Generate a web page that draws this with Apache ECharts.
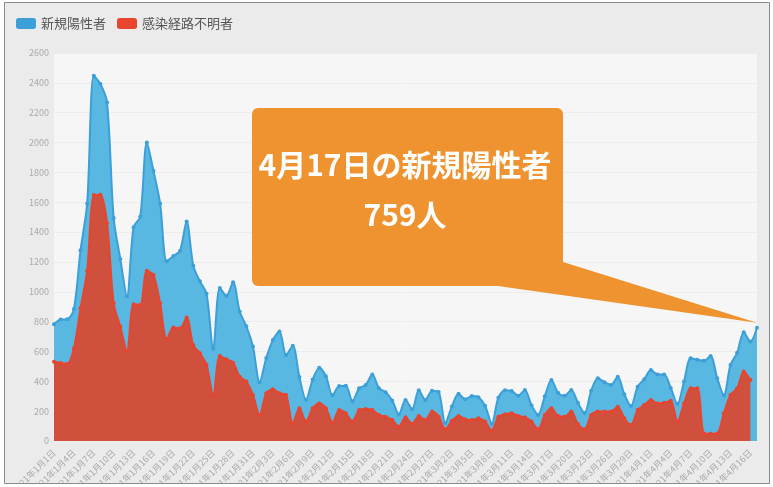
<!DOCTYPE html>
<html><head><meta charset="utf-8">
<script src="https://cdn.jsdelivr.net/npm/echarts@6/dist/echarts.min.js"></script>
<style>html,body{margin:0;padding:0;background:#fff;}#c{width:773px;height:487px;}</style>
</head><body><div id="c"></div>
<script>
const year = 2021;
const months = [1, 2, 3, 4];
const daysInMonth = [31, 28, 31, 17];
const seriesNames = ['新規陽性者', '感染経路不明者'];
const newCases = [
  783, 814, 816, 884, 1278, 1591, 2447, 2392, 2268, 1494, 1219, 970, 1433, 1502, 2001, 1809, 1592, 1204, 1240, 1274, 1471, 1175, 1070, 986, 618, 1026, 973, 1064, 868, 769, 633,
  393, 556, 676, 734, 577, 639, 429, 276, 412, 491, 434, 307, 369, 371, 266, 353, 375, 445, 353, 327, 272, 178, 275, 213, 340, 275, 337, 329,
  121, 232, 316, 279, 301, 293, 237, 116, 290, 340, 335, 304, 342, 239, 175, 300, 409, 323, 303, 342, 256, 187, 337, 420, 394, 376, 430, 313, 234, 364, 414,
  475, 446, 446, 355, 249, 399, 555, 545, 537, 570, 421, 306, 510, 591, 729, 667, 759
];
const unknownRoute = [
  531, 523, 516, 621, 889, 1141, 1648, 1650, 1459, 923, 766, 603, 916, 912, 1141, 1112, 923, 681, 760, 755, 827, 643, 588, 509, 308, 570, 547, 525, 431, 398, 308,
  174, 320, 346, 320, 308, 118, 219, 130, 219, 252, 219, 123, 208, 186, 130, 208, 215, 208, 174, 163, 141, 96, 159, 114, 168, 141, 197, 163,
  78, 136, 168, 145, 141, 152, 130, 69, 163, 179, 186, 168, 159, 130, 78, 174, 219, 168, 163, 197, 114, 78, 174, 197, 197, 197, 230, 152, 107, 208, 241,
  275, 252, 257, 270, 130, 252, 353, 353, 51, 48, 51, 186, 308, 353, 465, 409, null
];
const yTicks = {min: 0, max: 2600, interval: 200};

const categories = [];
months.forEach((m, i) => { for (let d = 1; d <= daysInMonth[i]; d++) categories.push(year + '年' + m + '月' + d + '日'); });

const FONT = '"Noto Sans CJK JP", "Noto Sans", sans-serif';
const chart = echarts.init(document.getElementById('c'), null, {renderer: 'canvas'});
const option = {
  backgroundColor: '#ffffff',
  animation: false,
  textStyle: {fontFamily: FONT},
  legend: {
    left: 11, top: 12, itemWidth: 20, itemHeight: 11, itemGap: 11, icon: 'roundRect',
    textStyle: {fontSize: 13, color: '#555', fontFamily: FONT},
    data: seriesNames
  },
  grid: {left: 54, right: 16, top: 53, bottom: 46, containLabel: false, outerBoundsMode: 'none',
    show: true, backgroundColor: '#f6f6f6', borderWidth: 0},
  xAxis: {
    type: 'category', boundaryGap: false, data: categories,
    axisLine: {show: false}, axisTick: {show: false},
    axisLabel: {rotate: 45, interval: 2, fontSize: 9, color: '#aaa', fontFamily: FONT, margin: 10},
    splitLine: {show: false}
  },
  yAxis: {
    type: 'value', min: yTicks.min, max: yTicks.max, interval: yTicks.interval,
    axisLine: {show: false}, axisTick: {show: false},
    axisLabel: {fontSize: 9, color: '#aaa', margin: 5, fontFamily: FONT, formatter: v => String(v)},
    splitLine: {lineStyle: {color: '#ececec', width: 1}}
  },
  series: [
    {
      name: seriesNames[0], type: 'line', data: newCases, smooth: 0.3, z: 2,
      symbol: 'circle', symbolSize: 4, showSymbol: true,
      itemStyle: {color: '#3c9fd8'},
      lineStyle: {color: '#3c9fd8', width: 2},
      areaStyle: {color: '#58b8e2', opacity: 1}
    },
    {
      name: seriesNames[1], type: 'line', data: unknownRoute, smooth: 0.3, z: 3,
      symbol: 'circle', symbolSize: 4, showSymbol: true,
      itemStyle: {color: '#e8442e'},
      lineStyle: {color: '#e8442e', width: 2},
      areaStyle: {color: '#cf503d', opacity: 1}
    }
  ]
};
chart.setOption(option);

const lastIdx = newCases.length - 1;
const tip = chart.convertToPixel({xAxisIndex: 0, yAxisIndex: 0}, [lastIdx, newCases[lastIdx]]);
const lastCat = categories[lastIdx].replace(year + '年', '');
chart.setOption({
  graphic: [
    {type: 'rect', left: 4, top: 2, z: -10, silent: true,
      shape: {width: 765, height: 481}, style: {fill: '#ebebeb'}},
    {type: 'rect', z: 200, silent: true, shape: {x: 0, y: 483, width: 773, height: 4}, style: {fill: '#ffffff'}},
    {type: 'rect', z: 201, silent: true, shape: {x: 4.5, y: 2.5, width: 765, height: 481},
      style: {fill: 'none', stroke: '#8a8a8a', lineWidth: 1}},
    {type: 'polygon', z: 100, silent: true,
      shape: {points: [[498, 286], [563, 262], [tip[0], tip[1] - 5]]}, style: {fill: '#ef9330'}},
    {type: 'rect', z: 100, silent: true, shape: {x: 252, y: 108, width: 311, height: 178, r: 6}, style: {fill: '#ef9330'}},
    {type: 'text', z: 101, silent: true, style: {x: 405, y: 165, text: lastCat + 'の' + seriesNames[0], fill: '#fff',
      font: 'bold 30px ' + FONT, textAlign: 'center', textVerticalAlign: 'middle'}},
    {type: 'text', z: 101, silent: true, style: {x: 405, y: 215, text: newCases[lastIdx] + '人', fill: '#fff',
      font: 'bold 30px ' + FONT, textAlign: 'center', textVerticalAlign: 'middle'}}
  ]
});
</script></body></html>
